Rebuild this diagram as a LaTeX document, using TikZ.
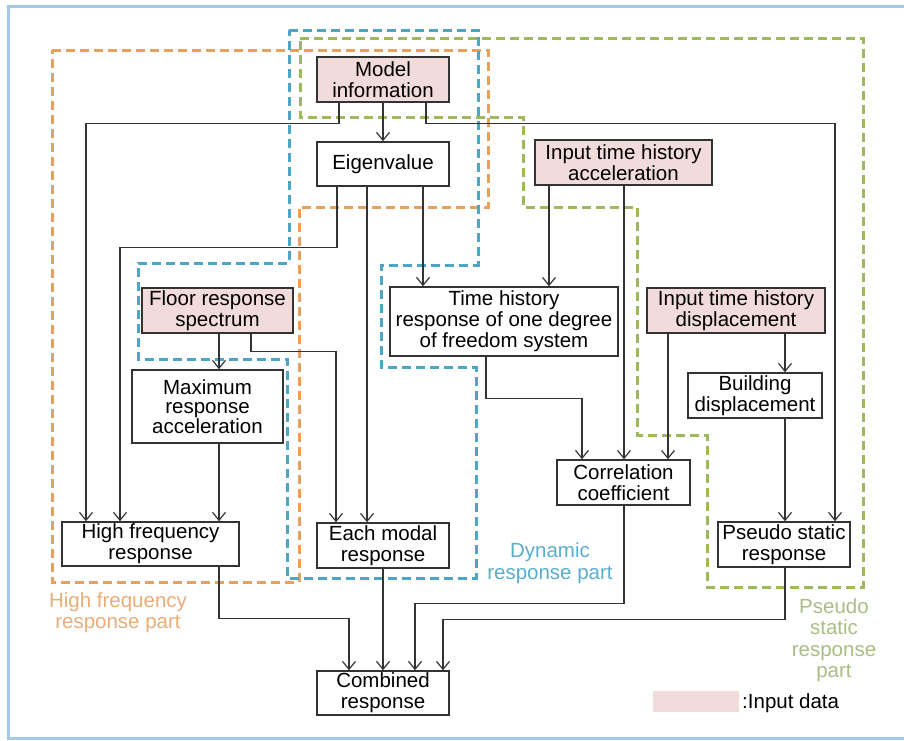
\documentclass[tikz,border=0pt]{standalone}
\usepackage{fontspec}
\setmainfont{Liberation Sans}
\usetikzlibrary{arrows.meta}
\definecolor{pinkfill}{HTML}{F2DCDB}
\definecolor{frameblue}{HTML}{A4C8EA}
\definecolor{orng}{HTML}{E8A05E}
\definecolor{blu}{HTML}{4DA6C4}
\definecolor{grn}{HTML}{9DB95C}
\definecolor{orngtxt}{HTML}{E8AE7A}
\definecolor{blutxt}{HTML}{5AAECB}
\definecolor{grntxt}{HTML}{A9BE84}
\definecolor{ln}{HTML}{333333}
\tikzset{
  box/.style={draw=ln, line width=1.5pt, fill=white, inner sep=0pt, align=center,
    font=\fontsize{20.5}{21}\selectfont},
  inbox/.style={box, fill=pinkfill},
  arr/.style={draw=ln, line width=1.3pt, -{Straight Barb[length=8pt,width=13pt,line width=1.2pt]}},
  region/.style={line width=3pt, dash pattern=on 9pt off 5pt},
  lbl/.style={align=center, inner sep=0pt, font=\fontsize{20.5}{21.5}\selectfont}
}
\begin{document}
\begin{tikzpicture}[x=1pt,y=-1pt]
\useasboundingbox (0,0) rectangle (904,740);
\fill[white] (0,0) rectangle (904,740);
% frame
\draw[frameblue, line width=3pt] (906,6.5) -- (8.5,6.5) -- (8.5,738.5) -- (906,738.5);

% regions
\draw[region, orng] (52,50) -- (488,50) -- (488,207) -- (299,207) -- (299,582) -- (52,582) -- cycle;
\draw[region, blu] (289,30) -- (478,30) -- (478,265) -- (381,265) -- (381,367) -- (476,367) -- (476,578) -- (287,578) -- (287,359) -- (138,359) -- (138,263) -- (289,263) -- cycle;
\draw[region, grn] (300,38) -- (863,38) -- (863,587) -- (707,587) -- (707,435) -- (637,435) -- (637,207) -- (523,207) -- (523,117) -- (300,117) -- cycle;

% nodes
\node[inbox, minimum width=132pt, minimum height=45pt] (model) at (383,79.5) {Model\\information};
\node[box, minimum width=132pt, minimum height=44pt] (eig) at (383,164) {Eigenvalue};
\node[inbox, minimum width=151pt, minimum height=45pt] (floor) at (217.5,310.5) {Floor response\\spectrum};
\node[box, minimum width=228pt, minimum height=69pt] (th) at (504,321.5) {Time history\\response of one degree\\of freedom system};
\node[inbox, minimum width=177pt, minimum height=45pt] (ita) at (623.5,162.5) {Input time history\\acceleration};
\node[inbox, minimum width=178pt, minimum height=45pt] (itd) at (736,310.5) {Input time history\\displacement};
\node[box, minimum width=151pt, minimum height=73pt, font=\fontsize{20.5}{19.5}\selectfont] (maxr) at (207.5,406.5) {Maximum\\response\\acceleration};
\node[box, minimum width=177pt, minimum height=44pt] (hf) at (150.5,544) {High frequency\\response};
\node[box, minimum width=132pt, minimum height=45pt] (each) at (383,545.5) {Each modal\\response};
\node[box, minimum width=132pt, minimum height=44pt] (comb) at (383,693) {Combined\\response};
\node[box, minimum width=134pt, minimum height=45pt] (bd) at (755,395.5) {Building\\displacement};
\node[box, minimum width=133pt, minimum height=45pt] (corr) at (623.5,482.5) {Correlation\\coefficient};
\node[box, minimum width=132pt, minimum height=45pt] (ps) at (784,544.5) {Pseudo static\\response};

% connectors
\draw[arr] (model.south) -- (eig.north);
\draw[arr] ([xshift=-44pt]model.south) -- ++(0,21) -| ([xshift=-64.5pt]hf.north);
\draw[arr] ([xshift=43pt]model.south) -- ++(0,21) -| ([xshift=51pt]ps.north);
\draw[arr] ([xshift=-46pt]eig.south) -- ++(0,61) -| ([xshift=-30.5pt]hf.north);
\draw[arr] ([xshift=-16pt]eig.south) -- ([xshift=-16pt]each.north);
\draw[arr] ([xshift=40pt]eig.south) -- ([xshift=40pt]eig.south |- th.north);
\draw[arr] ([xshift=-74.5pt]ita.south) -- ([xshift=-74.5pt]ita.south |- th.north);
\draw[arr] ([xshift=0.5pt]ita.south) -- ([xshift=0.5pt]corr.north);
\draw[arr] ([xshift=-18pt]th.south) -- ++(0,42) -| ([xshift=-41.5pt]corr.north);
\draw[arr] ([xshift=-68pt]itd.south) -- ([xshift=-68pt]itd.south |- corr.north);
\draw[arr] ([xshift=49pt]itd.south) -- ([xshift=49pt]itd.south |- bd.north);
\draw[arr] ([xshift=30pt]bd.south) -- ([xshift=30pt]bd.south |- ps.north);
\draw[arr] ([xshift=1.5pt]floor.south) -- ([xshift=1.5pt]floor.south |- maxr.north);
\draw[arr] ([xshift=33.5pt]floor.south) -- ++(0,18) -| ([xshift=-47pt]each.north);
\draw[arr] ([xshift=11.5pt]maxr.south) -- ([xshift=11.5pt]maxr.south |- hf.north);
\draw[arr] ([xshift=68.5pt]hf.south) -- ++(0,52) -| ([xshift=-34pt]comb.north);
\draw[arr] (each.south) -- (comb.north);
\draw[arr] ([xshift=0.5pt]corr.south) -- ++(0,98) -| ([xshift=32pt]comb.north);
\draw[arr] ([xshift=1pt]ps.south) -- ++(0,52) -| ([xshift=60pt]comb.north);

% labels
\node[lbl, text=orngtxt] (lhf) at (118,612.5) {High frequency\\response part};
\node[lbl, text=blutxt] (ldyn) at (550,563) {Dynamic\\response part};
\node[lbl, text=grntxt] (lps) at (834,640) {Pseudo\\static\\response\\part};

% legend
\fill[pinkfill] (653,691) rectangle (739,712);
\node[anchor=west, inner sep=0pt, font=\fontsize{20.5}{21}\selectfont] (leg) at (742,703) {:Input data};
\end{tikzpicture}
\end{document}
